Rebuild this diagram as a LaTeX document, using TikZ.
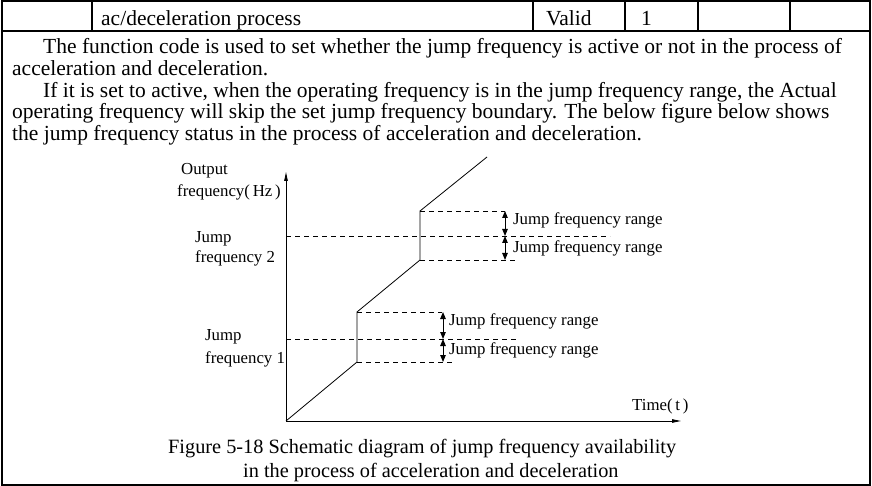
\documentclass[tikz,border=0pt]{standalone}
\usepackage{fontspec}
\setmainfont{Liberation Serif}
\usetikzlibrary{arrows.meta}
\begin{document}
\begin{tikzpicture}[x=1pt,y=-1pt,
  frame/.style={line width=1.4pt},
  bodytext/.style={anchor=base west,inner sep=0pt,font=\fontsize{21.5}{22}\selectfont},
  captext/.style={anchor=base west,inner sep=0pt,font=\fontsize{20.3}{22}\selectfont},
  lab/.style={anchor=base west,inner sep=0pt,font=\fontsize{16.8}{18}\selectfont},
  dsh/.style={line width=0.7pt,dash pattern=on 5pt off 4pt},
  curve/.style={line width=0.8pt},
  axisarrow/.style={line width=0.9pt,-{Triangle[length=9pt,width=3.5pt]}},
  rangearrow/.style={line width=1pt,{Triangle[length=7pt,width=5.5pt]}-{Triangle[length=7pt,width=5.5pt]}}
]
\useasboundingbox (0,0) rectangle (872,486);
% table
\draw[frame] (2,1) rectangle (870,485);
\draw[frame] (2,31) -- (870,31);
\foreach \xx in {92,533,625,698,790} \draw[frame] (\xx,1) -- (\xx,31);
\node[bodytext] (c1) at (101,26) {ac/deceleration process};
\node[bodytext] (c2) at (546,26) {Valid};
\node[bodytext] (c3) at (641,26) {1};
% body text
\node[bodytext] (t1) at (43,54) {The function code is used to set whether the jump frequency is active or not in the process of};
\node[bodytext] (t2) at (12,76) {acceleration and deceleration.};
\node[bodytext] (t3) at (43,98) {If it is set to active, when the operating frequency is in the jump frequency range, the Actual};
\node[bodytext] (t4) at (12,119) {operating frequency will skip the set jump frequency boundary. The below figure below shows};
\node[bodytext] (t5) at (12,141) {the jump frequency status in the process of acceleration and deceleration.};
% figure coordinates
\coordinate (O) at (286,421);
\coordinate (Ytop) at (286,172);
\coordinate (Xend) at (681,421);
\coordinate (P1) at (357,362);
\coordinate (P2) at (357,312);
\coordinate (P3) at (420,260);
\coordinate (P4) at (420,211);
\coordinate (P5) at (487,157);
\draw[axisarrow] (O) -- (Ytop);
\draw[axisarrow] (O) -- (Xend);
\draw[curve] (O) -- (P1) -- (P2) -- (P3) -- (P4) -- (P5);
% jump frequency 2
\coordinate (J2a) at (286,236); \coordinate (J2b) at (610,236);
\coordinate (J2ta) at (505,211); \coordinate (J2ba) at (517,260);
\coordinate (R2t) at (505,211); \coordinate (R2m) at (505,236); \coordinate (R2b) at (505,260);
\draw[dsh] (J2a) -- (J2b);
\draw[dsh] (P4) -- (J2ta);
\draw[dsh] (P3) -- (J2ba);
\draw[rangearrow] (R2t) -- (R2m);
\draw[rangearrow] (R2m) -- (R2b);
% jump frequency 1
\coordinate (J1a) at (286,339); \coordinate (J1b) at (517,339);
\coordinate (J1ta) at (442,312); \coordinate (J1ba) at (453,362);
\coordinate (R1t) at (443,312); \coordinate (R1m) at (443,339); \coordinate (R1b) at (443,362);
\draw[dsh] (J1a) -- (J1b);
\draw[dsh] (P2) -- (J1ta);
\draw[dsh] (P1) -- (J1ba);
\draw[rangearrow] (R1t) -- (R1m);
\draw[rangearrow] (R1m) -- (R1b);
% labels
\node[lab] (l1) at (513,225) {Jump frequency range};
\node[lab] (l2) at (513,253) {Jump frequency range};
\node[lab] (l3) at (449,325) {Jump frequency range};
\node[lab] (l4) at (449,354) {Jump frequency range};
\node[lab] (yl1) at (181,175) {Output};
\node[lab] (yl2) at (177,197) {frequency(\,Hz\,)};
\node[lab] (j2a) at (195,243) {Jump};
\node[lab] (j2b) at (195,262) {frequency 2};
\node[lab] (j1a) at (205,340) {Jump};
\node[lab] (j1b) at (205,363) {frequency 1};
\node[lab] (xl) at (632,410) {Time(\,t\,)};
% caption
\node[captext] (cap1) at (168,453) {Figure 5-18 Schematic diagram of jump frequency availability};
\node[captext] (cap2) at (243,477) {in the process of acceleration and deceleration};
\end{tikzpicture}
\end{document}
